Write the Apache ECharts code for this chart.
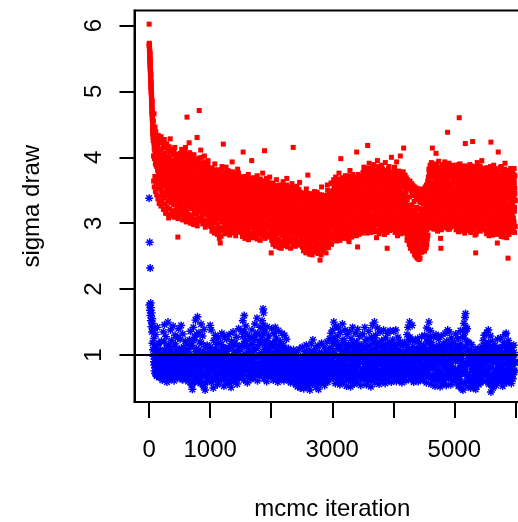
<!DOCTYPE html>
<html><head><meta charset="utf-8">
<script src="https://cdn.jsdelivr.net/npm/echarts@6/dist/echarts.min.js"></script>
<style>html,body{margin:0;padding:0;background:#fff}#c{width:518px;height:522px}</style>
</head><body><div id="c"></div>
<script>
// ---- axis ticks / labels ----
const iterTicks = [0, 1000, 2000, 3000, 4000, 5000, 6000];
const iterLabels = [0, 1000, 3000, 5000];
const sigmaTicks = [1, 2, 3, 4, 5, 6];
const refLineValue = 1;

// ---- red trace (chain 1): iteration blocks ----
const redBlockStart = [0, 65, 500, 1000, 1500, 2000, 2500, 3000, 3500, 4000, 4500, 5000, 5500];
const redBlockEnd   = [65, 500, 1000, 1500, 2000, 2500, 3000, 3500, 4000, 4500, 5000, 5500, 6000];
// pass A
const redBurnIn = [6.02,5.73,5.70,5.66,5.61,5.55,5.58,5.49,5.42,5.36,5.30,5.22,5.26,5.15,5.08,5.01,4.95,4.88,4.82,4.86,4.74,4.68,4.61,4.55,4.48,4.42];
const red0 = [4.41,4.55,4.28,4.66,4.35,4.12,4.46,4.05,4.22,3.95,4.30,4.10,3.86,4.02,4.18,3.80,3.92,4.08,
3.74,4.12,3.66,3.88,4.25,3.52,3.79,3.95,4.31,3.61,3.70,4.02,3.45,3.83,3.97,3.58,4.16,3.73,3.40,3.90,
4.05,3.62,3.81,3.15,3.68,4.20,3.77,3.55,3.93,3.48,3.86,4.10,3.64,3.08,3.72,3.99,3.57,3.84,4.28,3.51,
3.69,3.38,3.91,3.76,3.46,4.07,3.60,3.82,3.12,3.71,3.94,3.53,3.66,4.15,3.42,3.79,3.58,3.88,3.20,3.63,
4.01,3.49,3.75,2.79,3.92,3.37,3.68,3.81,3.44];
const red1 = [3.58,3.92,3.41,3.75,3.29,3.66,3.22,3.84,3.50,4.08,3.63,3.36,3.79,3.95,3.45,3.70,3.18,3.88,3.57,4.15,
3.40,3.67,3.82,3.29,4.61,3.99,3.48,3.74,3.12,3.86,3.53,4.22,3.38,3.69,3.90,3.44,3.60,3.05,3.77,3.51,
3.96,3.34,3.65,3.81,3.25,3.58,4.04,3.47,3.72,3.15,3.63,3.89,3.39,3.55,3.78,3.02,3.66,4.30,3.49,3.84,
3.31,3.62,3.97,3.43,4.71,3.20,3.57,3.83,3.36,4.11,3.52,3.68,3.08,3.75,3.46,3.91,3.33,3.60,3.79,3.27,
3.54,4.02,3.41,3.67,2.94,3.58,3.85,3.37,3.64,3.00,3.49,3.76,3.30,3.95,3.45,3.61,3.22,3.82,3.39,3.56];
const red2 = [3.42,3.15,3.71,3.28,3.56,2.98,3.83,3.37,3.62,3.09,3.49,3.77,3.21,3.58,3.34,3.90,3.03,3.45,3.66,3.26,
3.53,3.12,3.74,3.39,3.60,2.92,3.47,3.81,3.18,3.55,2.77,3.36,3.69,2.70,3.43,3.24,3.64,3.07,3.51,3.86,
3.31,3.58,3.14,4.20,3.40,3.72,3.00,3.48,3.27,3.63,3.19,3.54,3.85,3.33,2.95,3.46,3.68,3.11,3.38,3.57,
3.23,3.79,3.05,3.44,3.61,3.29,3.50,2.88,3.71,3.35,3.16,3.52,3.93,3.25,3.47,3.02,3.66,3.38,3.13,3.59,
3.30,3.76,2.97,3.43,3.55,3.20,3.67,3.34,3.08,3.49,3.82,3.26,3.41,2.91,3.58,3.36,3.70,3.17,3.45,3.28];
const red3 = [3.24,3.51,3.02,3.39,3.66,3.14,3.32,2.89,4.08,3.45,3.18,3.58,3.27,3.06,3.71,3.35,3.11,3.48,2.96,3.62,
3.29,3.41,3.08,3.55,3.20,3.74,3.01,3.37,3.16,3.52,3.25,2.93,3.64,3.33,3.12,3.46,3.95,3.21,3.57,3.04,
3.38,3.69,3.15,3.30,2.87,3.49,3.23,3.60,3.09,3.43,2.79,3.34,3.56,3.19,3.72,3.05,3.40,3.27,3.63,2.99,
3.36,3.13,3.53,3.22,3.67,3.07,3.44,3.31,2.91,3.58,3.17,3.39,3.76,3.10,3.47,3.26,3.00,3.61,4.10,3.35,
3.20,3.54,2.94,3.42,3.12,3.68,3.28,3.03,3.50,3.37,3.14,3.59,3.24,2.85,3.45,3.70,3.18,3.32,3.06,3.41];
const red4 = [2.55,3.21,3.48,2.92,3.30,3.05,3.61,2.83,3.16,3.39,2.98,3.27,3.54,3.09,2.76,3.42,3.13,3.66,2.95,3.24,
3.36,2.88,3.50,3.02,3.19,2.71,3.45,3.11,3.58,2.90,3.28,3.07,3.40,2.62,3.17,3.52,2.97,3.33,3.04,3.63,
3.14,2.85,3.44,3.22,2.79,3.35,3.00,3.56,3.12,2.93,3.31,3.68,3.06,3.26,2.81,3.47,3.15,2.99,3.38,3.10,
2.74,3.29,3.53,3.03,3.20,2.89,3.43,3.08,3.60,2.96,3.25,3.37,4.15,3.01,3.18,2.86,3.46,3.12,3.32,2.78,
3.09,3.55,2.94,3.23,3.41,3.04,2.72,3.34,3.16,3.49,2.91,3.27,3.06,3.62,2.84,3.19,3.39,2.97,3.13,3.30];
const red5 = [3.05,2.82,3.31,2.96,3.18,2.71,3.42,3.00,2.88,3.25,3.10,2.67,3.36,2.93,3.14,3.52,2.79,3.03,3.28,2.86,
3.73,3.08,2.75,3.21,2.98,3.45,2.69,3.12,2.91,3.33,3.01,2.63,3.19,2.84,2.52,3.39,2.95,3.07,2.73,3.26,
2.89,3.15,3.48,2.77,3.02,2.66,3.30,2.92,3.11,2.81,3.37,2.97,2.70,3.22,3.04,2.60,3.16,2.87,3.43,2.94,
2.44,3.09,2.78,3.27,2.99,3.55,2.83,3.13,2.65,3.20,2.90,3.34,3.06,2.74,3.17,2.94,3.40,2.86,3.23,3.00,
2.68,3.29,3.11,2.85,3.58,3.02,2.76,3.19,3.35,2.93,3.14,2.80,3.46,3.07,2.97,3.24,3.61,3.03,3.32,3.12];
const red6 = [3.18,3.46,2.94,3.30,3.62,3.05,3.38,2.82,3.55,3.21,3.12,3.70,3.27,2.99,3.43,3.16,3.64,2.88,3.34,3.51,
3.08,3.25,3.76,2.96,3.40,3.19,3.57,3.02,3.98,3.31,2.86,3.47,3.14,3.68,3.23,2.91,3.53,3.36,3.10,3.60,
3.28,2.78,3.44,3.72,3.06,3.33,3.15,3.58,2.93,3.39,3.66,3.20,3.01,3.49,3.29,2.72,3.54,3.13,3.80,3.35,
3.04,3.42,3.24,3.61,2.89,3.37,3.17,3.74,3.09,3.48,3.26,2.97,3.56,3.32,3.67,3.11,3.44,2.85,3.39,3.59,
4.08,3.22,3.50,2.64,3.36,3.07,3.63,3.30,3.45,3.00,3.71,3.27,3.15,3.52,2.95,3.41,3.69,3.19,3.34,3.57];
const red7 = [3.40,3.12,3.66,3.29,3.85,3.03,3.52,3.21,3.74,3.36,2.95,3.58,3.44,3.16,3.80,3.27,4.18,3.49,3.08,3.63,
3.33,3.91,3.19,3.46,2.87,3.70,3.38,3.55,3.10,3.77,3.25,3.60,3.43,2.99,3.68,3.31,3.89,3.14,3.50,3.22,
3.75,3.06,3.41,3.62,3.28,2.78,3.57,3.35,3.95,3.18,3.47,3.02,3.64,3.32,3.82,3.11,3.45,3.26,3.71,2.92,
3.53,3.37,3.88,3.15,3.42,3.61,3.04,3.34,3.79,3.23,3.56,2.83,3.48,3.30,3.92,3.17,3.39,3.65,3.09,3.44,
2.62,3.52,3.28,3.73,3.13,3.46,3.86,3.20,3.58,2.98,3.36,3.69,3.24,3.50,4.00,3.07,3.41,3.62,3.31,3.54];
const red8 = [3.38,3.05,3.62,3.21,3.85,2.90,3.47,3.29,3.70,3.12,3.54,3.93,3.16,3.40,2.81,3.66,3.33,3.08,3.77,3.25,
3.51,3.00,3.42,4.02,3.19,3.58,2.93,3.35,3.72,3.14,3.45,3.27,2.86,3.60,4.14,3.10,3.39,3.22,3.55,2.97,
3.30,3.06,3.48,2.88,3.18,2.74,3.36,3.01,2.83,3.24,2.95,3.12,2.68,3.40,2.90,3.05,2.62,3.27,2.85,3.15,
2.77,3.55,2.98,2.58,3.20,2.86,3.09,2.70,3.33,2.93,2.52,3.02,2.81,3.17,2.66,2.96,3.45,2.74,2.47,3.08,
2.89,2.60,3.22,2.78,2.45,3.00,2.71,3.13,2.56,2.92,3.31,2.82,2.64,3.06,2.94,3.38,2.75,3.19,3.48,2.99];
const red9 = [2.86,3.21,2.58,3.03,3.36,2.72,2.95,3.47,2.63,3.14,2.90,3.28,3.05,3.52,3.19,3.66,2.97,3.41,3.77,3.26,
3.55,3.09,3.70,3.34,3.48,2.93,3.61,3.82,4.14,3.23,3.45,3.72,3.13,3.58,3.37,3.86,3.00,3.50,3.29,3.64,
4.06,3.42,3.18,3.75,3.53,2.88,3.39,3.68,3.24,3.57,3.80,3.11,3.46,3.33,3.62,2.77,2.62,3.40,3.71,3.27,
3.54,3.06,3.83,3.35,3.49,3.16,3.67,2.95,3.44,3.59,3.22,3.76,3.38,3.02,3.63,3.31,3.52,3.88,4.38,3.14,
3.47,3.69,3.25,3.56,2.91,3.41,3.78,3.20,3.60,3.36,3.08,3.51,3.73,3.30,3.45,2.99,3.65,3.28,3.84,3.39];
const red10 = [3.43,3.10,3.66,3.27,3.81,2.96,3.52,3.35,3.74,3.18,3.58,3.02,3.45,3.70,3.24,3.89,4.60,3.31,3.62,3.08,
3.49,3.77,3.15,3.40,3.85,2.90,3.55,3.29,3.68,3.12,3.44,3.79,3.21,3.60,2.85,3.37,4.21,3.50,3.06,3.72,
3.33,3.57,3.19,3.83,3.41,2.98,3.64,3.26,3.53,3.11,3.76,3.38,3.04,3.61,3.22,3.87,3.46,2.93,3.69,3.30,
4.24,3.54,3.17,3.42,3.80,3.07,3.63,3.34,2.82,3.58,2.55,3.25,3.71,3.13,3.48,3.92,3.20,3.39,3.66,3.00,
3.55,3.28,3.84,3.16,3.47,2.88,3.73,3.36,3.59,3.23,3.95,3.09,3.50,3.32,3.78,2.97,3.61,3.40,3.14,3.67];
const red11 = [3.36,3.02,3.58,3.21,3.77,2.89,3.45,3.13,3.68,3.29,3.52,3.84,3.07,3.40,3.63,2.95,3.31,3.74,3.18,3.49,
4.23,3.26,3.57,3.04,3.70,3.38,2.84,3.61,3.20,3.88,3.44,3.11,3.66,3.33,2.98,3.53,3.79,3.24,3.47,3.09,
3.59,2.70,3.35,3.82,4.08,3.15,3.42,3.71,3.01,3.55,3.28,3.64,2.92,3.39,3.86,3.19,3.50,3.06,3.73,3.32,
3.12,3.60,3.45,2.79,3.67,3.23,3.91,3.37,3.04,3.54,3.30,3.76,3.16,3.48,2.87,3.62,2.47,3.41,3.08,3.69,
3.25,3.56,3.80,3.14,3.43,2.96,3.65,3.34,3.51,3.10,3.72,3.27,3.46,3.00,3.60,3.38,3.83,3.18,3.53,3.35];
// pass B
const redBurnInB = [5.71,5.68,5.64,5.59,5.52,5.47,5.40,5.44,5.33,5.27,5.19,5.12,5.05,5.10,4.98,4.92,4.84,4.79,4.71,4.65,4.58,4.63,4.51,4.45,4.38,4.33];
const red0B = [4.25,4.02,4.38,4.14,3.98,4.21,4.07,3.90,4.16,4.00,3.88,4.11,3.94,4.05,3.84,3.97,4.13,3.89,
3.78,3.96,3.85,4.03,3.71,3.92,3.81,3.69,3.99,3.76,3.87,3.64,3.93,3.80,3.72,4.00,3.67,3.86,3.77,3.59,
3.90,3.74,3.83,3.63,3.96,3.70,3.79,3.55,3.88,3.75,3.66,3.85,3.58,3.78,3.94,3.68,3.73,3.61,3.82,3.50,
3.76,3.87,3.64,3.71,3.56,3.80,3.69,3.91,3.59,3.74,3.65,3.84,3.53,3.72,3.62,3.79,3.48,3.67,3.85,3.60,
3.70,3.57,3.81,3.66,3.52,3.75,3.63,3.78,3.55];
const red1B = [3.62,3.48,3.75,3.55,3.41,3.68,3.52,3.80,3.45,3.60,3.37,3.71,3.57,3.46,3.83,3.53,3.64,3.39,3.74,3.50,
3.66,3.43,3.58,3.77,3.35,3.61,3.49,3.72,3.54,3.42,3.69,3.56,3.33,3.63,3.47,3.79,3.51,3.40,3.65,3.58,
3.44,3.70,3.36,3.55,3.62,3.30,3.59,3.48,3.73,3.41,3.57,3.66,3.38,3.52,3.45,3.69,3.34,3.60,3.47,3.76,
3.43,3.54,3.31,3.63,3.50,3.39,3.67,3.46,3.57,3.28,3.61,3.44,3.53,3.70,3.37,3.49,3.58,3.32,3.65,3.42,
3.55,3.27,3.48,3.62,3.40,3.51,3.35,3.59,3.45,3.68,3.33,3.47,3.56,3.29,3.52,3.41,3.64,3.38,3.49,3.44];
const red2B = [3.40,3.26,3.53,3.35,3.18,3.47,3.31,3.60,3.22,3.44,3.37,3.13,3.50,3.29,3.41,3.56,3.24,3.38,3.15,3.46,
3.33,3.58,3.20,3.43,3.30,3.52,3.11,3.36,3.48,3.27,3.39,3.19,3.55,3.32,3.45,3.23,3.61,3.34,3.14,3.42,
3.28,3.51,3.36,3.17,3.44,3.31,3.57,3.21,3.39,3.25,3.49,3.34,3.12,3.40,3.28,3.54,3.19,3.37,3.46,3.23,
3.32,3.50,3.16,3.41,3.29,3.58,3.22,3.35,3.09,3.43,3.27,3.47,3.33,3.18,3.52,3.30,3.40,3.14,3.36,3.24,
3.45,3.31,3.55,3.20,3.38,3.26,3.49,3.12,3.34,3.42,3.21,3.37,3.29,3.53,3.17,3.39,3.25,3.46,3.30,3.35];
const red3B = [3.25,3.10,3.38,3.19,3.32,3.02,3.28,3.45,3.14,3.30,3.21,3.40,3.07,3.26,3.35,3.12,3.48,3.18,3.29,2.99,
3.23,3.37,3.09,3.31,3.16,3.43,3.20,3.05,3.34,3.24,3.13,3.39,3.27,3.01,3.22,3.46,3.15,3.33,3.08,3.28,
3.19,3.41,3.11,3.30,3.24,2.96,3.36,3.17,3.27,3.04,3.33,3.20,3.44,3.13,3.26,3.06,3.38,3.22,3.10,3.31,
3.18,3.35,3.02,3.25,3.42,3.14,3.29,3.08,3.37,3.21,3.12,3.32,3.23,3.47,3.16,3.28,3.00,3.34,3.19,3.26,
3.09,3.39,3.21,3.15,3.31,3.05,3.27,3.43,3.17,3.24,3.11,3.36,3.20,3.30,3.03,3.25,3.14,3.40,3.22,3.18];
const red4B = [3.12,2.96,3.25,3.05,3.18,2.89,3.30,3.08,2.99,3.21,3.14,3.35,2.93,3.10,3.23,3.02,3.16,2.86,3.27,3.07,
3.19,2.98,3.32,3.11,2.91,3.24,3.04,3.15,2.95,3.28,3.09,3.20,2.88,3.13,3.01,3.26,3.17,2.94,3.06,3.38,
3.11,2.97,3.22,3.03,3.14,2.84,3.29,3.08,3.18,2.92,3.05,3.24,3.12,2.90,3.19,3.00,3.33,3.07,2.95,3.16,
3.26,3.02,3.13,2.87,3.21,3.09,2.98,3.30,3.04,3.15,2.92,3.18,3.06,3.27,2.99,3.11,3.23,2.85,3.14,3.01,
3.20,3.08,2.93,3.25,3.03,3.16,2.89,3.12,3.34,2.97,3.10,3.19,2.94,3.07,3.22,3.00,3.13,2.91,3.17,3.05];
const red5B = [3.02,2.88,3.15,2.95,3.08,2.79,3.20,2.99,2.85,3.11,3.04,2.91,3.24,2.97,3.06,2.83,3.13,2.94,3.01,2.77,
3.18,2.92,3.09,2.86,3.00,3.22,2.81,3.05,2.96,3.14,2.89,3.03,2.74,2.98,3.10,2.84,3.07,2.93,3.19,2.80,
2.97,3.12,2.87,3.04,2.76,3.01,3.16,2.90,3.08,2.82,3.00,2.94,3.21,2.85,3.06,2.72,2.99,3.13,2.88,3.03,
2.78,2.95,3.10,2.86,3.02,2.91,3.17,2.83,3.05,2.97,3.12,2.89,3.00,3.25,2.93,3.07,2.84,3.15,2.98,3.04,
2.90,3.11,2.96,3.20,2.87,3.06,3.01,3.14,2.92,3.09,3.18,2.99,3.05,3.27,3.02,3.13,2.95,3.22,3.08,3.16];
const red6B = [3.15,3.32,3.05,3.24,3.40,3.10,3.28,2.98,3.35,3.18,3.22,3.45,3.08,3.30,3.14,3.38,3.02,3.26,3.19,3.42,
3.11,3.29,3.50,3.06,3.33,3.21,3.44,3.13,3.36,3.25,3.01,3.39,3.17,3.48,3.27,3.09,3.34,3.23,3.12,3.41,
3.30,3.04,3.37,3.52,3.16,3.28,3.20,3.43,3.07,3.31,3.46,3.24,3.14,3.35,3.27,3.00,3.39,3.18,3.55,3.29,
3.12,3.33,3.26,3.47,3.05,3.31,3.22,3.50,3.16,3.38,3.28,3.10,3.42,3.32,3.49,3.19,3.36,3.03,3.30,3.44,
3.57,3.25,3.37,3.08,3.33,3.17,3.46,3.29,3.40,3.14,3.51,3.27,3.21,3.39,3.11,3.35,3.48,3.24,3.31,3.43];
const red7B = [3.37,3.21,3.50,3.30,3.62,3.15,3.42,3.28,3.55,3.34,3.10,3.46,3.39,3.24,3.58,3.32,3.66,3.41,3.19,3.49,
3.35,3.60,3.26,3.44,3.07,3.53,3.36,3.45,3.22,3.57,3.31,3.48,3.40,3.13,3.52,3.33,3.63,3.25,3.43,3.29,
3.56,3.18,3.38,3.47,3.32,3.05,3.45,3.36,3.68,3.27,3.41,3.16,3.51,3.34,3.59,3.23,3.40,3.31,3.54,3.12,
3.44,3.37,3.64,3.26,3.39,3.48,3.17,3.35,3.57,3.30,3.46,3.09,3.42,3.33,3.61,3.27,3.38,3.50,3.20,3.40,
3.02,3.44,3.32,3.55,3.24,3.43,3.60,3.29,3.47,3.14,3.36,3.52,3.30,3.41,3.65,3.19,3.39,3.49,3.34,3.45];
const red8B = [3.35,3.18,3.48,3.27,3.60,3.10,3.40,3.31,3.53,3.22,3.44,3.65,3.25,3.37,3.06,3.50,3.33,3.19,3.57,3.29,
3.42,3.14,3.38,3.62,3.26,3.47,3.12,3.34,3.55,3.23,3.39,3.30,3.09,3.46,3.58,3.21,3.36,3.28,3.43,3.15,
3.24,3.08,3.33,2.97,3.16,2.90,3.22,3.04,2.95,3.18,3.01,3.10,2.85,3.25,2.98,3.07,2.80,3.15,2.94,3.05,
2.88,3.28,3.02,2.76,3.12,2.92,3.06,2.83,3.20,2.99,2.70,3.04,2.89,3.11,2.78,2.97,3.24,2.86,2.66,3.03,
2.93,2.75,3.09,2.87,2.62,3.01,2.82,3.08,2.72,2.96,3.18,2.90,2.79,3.05,2.99,3.22,2.85,3.12,3.30,3.02];
const red9B = [2.92,3.12,2.74,3.01,3.22,2.85,2.98,3.30,2.80,3.09,2.96,3.20,3.11,3.38,3.25,3.50,3.08,3.36,3.58,3.30,
3.45,3.18,3.55,3.33,3.42,3.06,3.48,3.62,3.27,3.39,3.51,3.23,3.44,3.35,3.60,3.15,3.41,3.32,3.53,3.26,
3.67,3.38,3.21,3.57,3.46,3.02,3.36,3.52,3.29,3.47,3.59,3.19,3.40,3.34,3.50,3.05,2.98,3.37,3.55,3.31,
3.44,3.16,3.63,3.35,3.43,3.22,3.54,3.09,3.40,3.49,3.28,3.58,3.37,3.13,3.51,3.33,3.45,3.65,3.24,3.39,
3.42,3.56,3.30,3.47,3.07,3.38,3.61,3.26,3.48,3.36,3.17,3.44,3.57,3.32,3.41,3.10,3.53,3.34,3.62,3.40];
const red10B = [3.40,3.22,3.52,3.31,3.64,3.11,3.45,3.36,3.58,3.26,3.48,3.14,3.39,3.56,3.29,3.67,3.43,3.34,3.51,3.19,
3.42,3.61,3.24,3.37,3.70,3.08,3.47,3.32,3.55,3.21,3.38,3.63,3.28,3.50,3.05,3.35,3.59,3.44,3.17,3.57,
3.33,3.49,3.25,3.66,3.39,3.12,3.53,3.30,3.46,3.20,3.60,3.37,3.15,3.51,3.27,3.68,3.41,3.09,3.55,3.32,
3.62,3.44,3.23,3.38,3.64,3.16,3.50,3.34,3.02,3.47,2.98,3.29,3.57,3.21,3.43,3.71,3.26,3.36,3.54,3.13,
3.45,3.31,3.65,3.24,3.40,3.07,3.58,3.35,3.48,3.28,3.69,3.18,3.42,3.33,3.61,3.10,3.52,3.37,3.25,3.56];
const red11B = [3.33,3.14,3.47,3.26,3.60,3.05,3.39,3.21,3.53,3.30,3.44,3.65,3.17,3.36,3.51,3.09,3.32,3.58,3.24,3.42,
3.70,3.28,3.48,3.12,3.56,3.35,3.01,3.49,3.25,3.63,3.38,3.19,3.52,3.31,3.08,3.45,3.61,3.27,3.40,3.16,
3.50,2.94,3.34,3.64,3.72,3.22,3.37,3.57,3.11,3.46,3.29,3.54,3.03,3.36,3.66,3.23,3.43,3.13,3.59,3.32,
3.18,3.50,3.39,2.97,3.55,3.26,3.69,3.35,3.10,3.45,3.31,3.62,3.20,3.41,3.00,3.52,2.88,3.38,3.15,3.57,
3.28,3.47,3.63,3.19,3.40,3.06,3.54,3.33,3.44,3.16,3.59,3.30,3.42,3.08,3.50,3.37,3.66,3.24,3.45,3.34];
// pass C
const redBurnInC = [5.69,5.62,5.57,5.50,5.45,5.38,5.34,5.29,5.24,5.17,5.14,5.06,5.00,4.96,4.90,4.85,4.80,4.76,4.70,4.66,4.60,4.53,4.47,4.40,4.36,4.30];
const red0C = [4.42,3.64,4.21,3.55,4.34,3.71,4.15,3.48,4.39,3.60,4.12,3.43,4.28,3.67,4.19,3.37,4.33,3.52,
4.08,3.30,4.26,3.58,4.02,3.41,4.31,3.26,4.11,3.49,4.22,3.34,3.99,3.56,4.17,3.21,4.06,3.45,4.27,3.29,
4.03,3.39,4.14,3.18,3.96,3.47,4.20,3.25,4.01,3.33,4.10,3.14,3.93,3.42,4.16,3.22,3.98,3.36,4.07,3.11,
3.91,3.31,4.12,3.19,3.95,3.44,4.04,3.16,3.88,3.28,4.09,3.09,3.92,3.35,4.00,3.20,3.86,3.40,4.05,3.13,
3.90,3.27,3.97,3.07,3.87,3.32,4.02,3.17,3.94];
const red1C = [3.98,3.21,4.06,3.34,3.87,3.12,4.12,3.27,3.93,3.05,3.82,3.38,4.02,3.16,3.90,3.24,4.09,3.09,3.85,3.31,
3.96,3.02,3.80,3.19,4.04,3.35,3.89,3.07,3.99,3.26,3.83,3.13,4.07,3.29,3.92,3.00,3.86,3.22,4.01,3.36,
3.78,3.10,3.95,3.25,3.84,2.98,4.03,3.18,3.88,3.32,3.79,3.06,3.97,3.23,3.81,3.14,3.94,2.96,3.76,3.28,
3.91,3.08,3.85,3.20,3.99,3.33,3.77,3.03,3.90,3.17,3.82,3.27,4.00,3.11,3.74,2.99,3.88,3.21,3.80,3.30,
3.93,3.04,3.75,3.15,3.86,3.26,3.78,2.97,3.84,3.12,3.72,3.23,3.89,3.01,3.77,3.18,3.83,3.08,3.73,3.24];
const red2C = [3.78,2.95,3.66,3.10,3.84,2.88,3.71,3.04,3.60,2.92,3.75,3.13,3.64,2.85,3.81,3.00,3.69,3.08,3.57,2.90,
3.73,3.15,3.62,2.83,3.79,2.98,3.67,3.06,3.55,2.87,3.76,3.11,3.63,2.93,3.70,2.80,3.58,3.02,3.82,3.09,
3.65,2.89,3.74,3.14,3.59,2.96,3.68,2.84,3.77,3.05,3.61,2.91,3.72,3.12,3.56,2.86,3.80,3.01,3.66,2.94,
3.70,3.07,3.54,2.82,3.75,2.99,3.63,3.10,3.69,2.88,3.58,3.03,3.78,2.92,3.64,3.13,3.53,2.85,3.71,2.97,
3.67,3.08,3.60,2.81,3.74,2.95,3.57,3.04,3.68,2.90,3.62,3.11,3.76,2.87,3.55,3.00,3.70,2.93,3.65,3.06];
const red3C = [3.63,2.86,3.52,3.00,3.70,2.80,3.58,2.94,3.47,2.83,3.66,3.03,3.54,2.77,3.61,2.91,3.49,2.98,3.68,2.82,
3.56,3.05,3.45,2.88,3.64,2.75,3.53,2.96,3.60,2.85,3.48,3.01,3.67,2.79,3.55,2.93,3.44,2.84,3.62,3.04,
3.51,2.78,3.65,2.97,3.46,2.87,3.59,3.02,3.50,2.81,3.69,2.95,3.57,2.76,3.43,2.90,3.63,3.00,3.52,2.83,
3.58,2.97,3.47,2.74,3.66,2.89,3.54,3.03,3.49,2.86,3.61,2.80,3.45,2.94,3.64,2.88,3.53,2.99,3.42,2.77,
3.60,2.92,3.50,2.84,3.67,2.98,3.56,2.79,3.46,2.93,3.62,3.02,3.51,2.85,3.58,2.96,3.44,2.81,3.55,2.90];
const red4C = [3.52,2.74,3.41,2.88,3.58,2.68,3.46,2.82,3.36,2.71,3.55,2.91,3.43,2.65,3.50,2.79,3.38,2.86,3.57,2.70,
3.45,2.93,3.34,2.76,3.53,2.63,3.42,2.84,3.49,2.73,3.37,2.89,3.56,2.67,3.44,2.81,3.33,2.72,3.51,2.92,
3.40,2.66,3.54,2.85,3.35,2.75,3.48,2.90,3.39,2.69,3.58,2.83,3.46,2.64,3.32,2.78,3.52,2.88,3.41,2.71,
3.47,2.85,3.36,2.62,3.55,2.77,3.43,2.91,3.38,2.74,3.50,2.68,3.34,2.82,3.53,2.76,3.42,2.87,3.31,2.65,
3.49,2.80,3.39,2.72,3.56,2.86,3.45,2.67,3.35,2.81,3.51,2.90,3.40,2.73,3.47,2.84,3.33,2.69,3.44,2.78];
const red5C = [3.40,2.64,3.30,2.78,3.46,2.58,3.35,2.72,3.25,2.61,3.43,2.81,3.32,2.55,3.38,2.69,3.27,2.76,3.45,2.60,
3.34,2.83,3.23,2.66,3.41,2.53,3.31,2.74,3.37,2.63,3.26,2.79,3.44,2.57,3.33,2.71,3.22,2.62,3.39,2.82,
3.29,2.56,3.42,2.75,3.24,2.65,3.36,2.80,3.28,2.59,3.47,2.73,3.35,2.54,3.21,2.68,3.40,2.78,3.30,2.61,
3.36,2.75,3.25,2.52,3.43,2.67,3.32,2.81,3.27,2.64,3.39,2.58,3.24,2.72,3.42,2.66,3.31,2.77,3.20,2.55,
3.41,2.73,3.33,2.66,3.50,2.80,3.39,2.63,3.30,2.77,3.46,2.86,3.37,2.70,3.44,2.82,3.32,2.68,3.48,2.79];
const red6C = [3.60,2.82,3.50,2.95,3.66,2.76,3.55,2.89,3.45,2.79,3.63,2.98,3.52,2.73,3.59,2.87,3.48,2.93,3.67,2.80,
3.56,3.00,3.46,2.85,3.64,2.74,3.54,2.92,3.61,2.83,3.50,2.97,3.69,2.78,3.58,2.90,3.47,2.81,3.65,3.01,
3.55,2.77,3.68,2.94,3.51,2.86,3.62,2.99,3.54,2.80,3.72,2.93,3.60,2.75,3.49,2.88,3.67,3.00,3.57,2.84,
3.63,2.97,3.53,2.79,3.71,2.91,3.59,3.04,3.55,2.87,3.66,2.82,3.52,2.96,3.70,2.90,3.60,3.02,3.49,2.81,
3.68,2.95,3.58,2.87,3.74,3.01,3.64,2.83,3.54,2.97,3.70,3.05,3.61,2.89,3.67,2.99,3.53,2.85,3.63,2.94];
const red7C = [3.77,2.94,3.66,3.07,3.84,2.88,3.72,3.02,3.62,2.91,3.80,3.10,3.69,2.85,3.76,2.99,3.64,3.05,3.83,2.92,
3.71,3.12,3.61,2.97,3.79,2.86,3.68,3.04,3.75,2.95,3.63,3.09,3.85,2.90,3.73,3.01,3.60,2.93,3.78,3.11,
3.67,2.87,3.81,3.06,3.63,2.98,3.74,3.08,3.66,2.89,3.86,3.03,3.72,2.84,3.59,2.96,3.79,3.10,3.68,2.92,
3.74,3.05,3.62,2.88,3.82,3.00,3.70,3.13,3.65,2.94,3.77,2.90,3.61,3.04,3.80,2.97,3.69,3.08,3.58,2.86,
3.76,3.01,3.66,2.93,3.83,3.06,3.71,2.89,3.64,3.02,3.78,3.11,3.67,2.95,3.73,3.07,3.60,2.91,3.70,2.99];
const red8C = [3.74,2.92,3.63,3.05,3.80,2.86,3.68,2.99,3.58,2.89,3.77,3.08,3.65,2.83,3.71,2.97,3.60,3.03,3.79,2.90,
3.67,3.10,3.57,2.95,3.75,2.84,3.64,3.01,3.70,2.93,3.59,3.06,3.78,2.87,3.66,2.98,3.55,2.91,3.73,3.04,
3.62,2.85,3.69,2.96,3.54,2.80,3.66,2.92,3.58,2.76,3.61,2.88,3.52,2.73,3.64,2.84,3.56,2.68,3.49,2.79,
3.60,2.62,3.45,2.74,3.57,2.58,3.51,2.70,3.42,2.54,3.55,2.66,3.47,2.50,3.38,2.63,3.53,2.57,3.44,2.48,
3.36,2.60,3.50,2.52,3.41,2.65,3.33,2.47,3.46,2.59,3.39,2.69,3.52,2.56,3.43,2.72,3.35,2.61,3.48,2.75];
const red9C = [3.50,2.58,3.44,2.66,3.55,2.62,3.47,2.71,3.58,2.68,3.52,2.76,3.63,2.82,3.70,2.95,3.82,3.08,3.74,2.99,
3.88,3.14,3.77,2.93,3.92,3.05,3.80,3.17,3.70,2.97,3.86,3.11,3.75,2.91,3.83,3.06,3.72,3.15,3.90,3.00,
3.78,2.94,3.87,3.09,3.73,3.19,3.81,2.92,3.94,3.04,3.76,3.13,3.69,2.96,3.85,3.08,3.79,2.90,3.71,3.16,
3.89,3.02,3.74,2.95,3.84,3.12,3.77,3.01,3.93,2.93,3.80,3.10,3.68,3.05,3.86,2.98,3.75,3.18,3.82,2.91,
3.72,3.07,3.91,3.00,3.79,3.14,3.70,2.94,3.85,3.09,3.76,3.03,3.88,2.96,3.73,3.15,3.81,2.99,3.78,3.06];
const red10C = [3.82,2.96,3.71,3.10,3.88,2.90,3.76,3.04,3.66,2.93,3.85,3.13,3.73,2.87,3.80,3.01,3.68,3.07,3.90,2.94,
3.75,3.15,3.64,2.99,3.83,2.88,3.72,3.06,3.79,2.97,3.67,3.11,3.87,2.91,3.77,3.03,3.63,2.95,3.81,3.14,
3.70,2.89,3.86,3.08,3.69,3.00,3.78,3.12,3.71,2.92,3.89,3.05,3.74,2.86,3.62,2.98,3.84,3.13,3.72,2.95,
3.78,3.09,3.65,2.90,3.86,3.02,3.74,3.16,3.70,2.96,3.82,2.84,3.66,3.07,3.85,3.00,3.73,3.11,3.61,2.89,
3.80,3.04,3.69,2.95,3.87,3.10,3.75,2.92,3.67,3.05,3.83,3.14,3.71,2.97,3.77,3.09,3.64,2.93,3.76,3.02];
const red11C = [3.77,2.90,3.65,3.04,3.84,2.84,3.71,2.98,3.61,2.87,3.80,3.07,3.68,2.81,3.75,2.95,3.63,3.01,3.86,2.89,
3.70,3.09,3.59,2.93,3.79,2.82,3.67,3.00,3.74,2.91,3.62,3.05,3.83,2.86,3.72,2.97,3.58,2.88,3.76,3.08,
3.66,2.83,3.81,3.02,3.64,2.94,3.73,3.06,3.68,2.85,3.85,2.99,3.70,2.80,3.57,2.92,3.78,3.07,3.66,2.88,
3.73,3.03,3.60,2.84,3.82,2.96,3.69,3.10,3.65,2.90,3.77,2.78,3.62,3.01,3.80,2.94,3.68,3.05,3.56,2.83,
3.75,2.98,3.64,2.89,3.83,3.04,3.71,2.87,3.61,2.99,3.79,3.08,3.67,2.92,3.74,3.02,3.59,2.86,3.72,2.95];

// ---- blue trace (chain 2): 500-iteration blocks ----
const blueBlockStart = [0, 500, 1000, 1500, 2000, 2500, 3000, 3500, 4000, 4500, 5000, 5500];
const blueBlockEnd   = [500, 1000, 1500, 2000, 2500, 3000, 3500, 4000, 4500, 5000, 5500, 6000];
const blue0 = [3.38,2.71,2.32,1.79,1.72,1.64,1.55,1.48,1.38,1.25,0.85,1.12,0.72,1.31,0.95,0.68,1.42,1.05,0.78,1.18,
0.66,0.92,1.08,0.74,1.21,0.88,0.62,1.02,1.35,0.80,1.46,0.97,0.70,1.28,1.10,0.59,0.86,1.50,1.15,0.76,
1.03,0.64,1.38,0.90,1.22,0.69,0.99,1.44,0.83,0.61,1.13,1.30,0.73,0.94,1.06,0.67,1.26,0.87,1.40,0.79];
const blue1 = [0.92,1.24,0.71,1.45,1.05,0.63,1.32,0.88,1.12,0.76,1.02,1.21,0.69,0.94,1.18,0.82,0.65,1.08,0.90,1.23,
0.74,1.36,0.98,0.55,1.15,0.48,0.86,1.42,0.70,1.27,0.95,1.53,0.61,1.10,0.79,1.58,1.01,0.66,1.34,0.87,
1.20,0.57,1.47,0.93,0.72,1.29,1.06,0.52,1.39,0.84,0.47,1.13,0.68,0.97,1.15,0.60,0.89,1.04,0.75,1.11];
const blue2 = [1.45,0.82,1.38,0.59,1.07,0.91,0.50,1.22,0.73,1.00,1.30,0.64,0.95,1.16,0.55,0.87,1.26,0.70,1.04,0.60,
1.19,0.81,0.98,1.33,0.66,0.90,1.12,0.53,1.28,0.77,1.02,0.62,1.24,0.85,1.09,0.57,0.94,1.31,0.72,1.14,
0.88,0.51,1.21,0.99,0.68,1.35,0.79,1.06,0.61,1.18,0.92,0.74,1.27,0.56,1.01,0.83,1.40,0.65,1.10,0.89];
const blue3 = [1.08,0.67,1.36,0.84,1.52,0.99,0.62,1.60,1.21,0.76,1.44,0.91,1.13,0.58,1.30,0.82,1.02,0.70,1.25,0.94,
0.63,1.17,1.38,0.79,1.05,0.66,1.28,0.88,1.47,0.73,1.11,0.96,1.56,0.61,1.33,0.85,1.19,0.69,1.42,1.00,
0.75,1.24,1.52,0.90,1.70,1.64,0.64,1.09,1.35,0.81,1.20,0.60,1.43,0.97,0.72,1.29,1.05,0.86,1.14,0.68];
const blue4 = [0.93,1.40,0.71,1.18,0.62,1.33,0.87,1.04,1.42,0.66,1.26,0.80,0.98,0.59,1.37,0.91,1.12,0.74,1.21,0.64,
1.01,1.33,0.78,0.95,1.15,0.61,1.30,0.86,1.07,0.69,1.24,0.83,1.00,0.63,1.10,0.76,0.92,1.06,0.58,0.85,
1.02,0.71,0.96,0.60,1.08,0.81,0.67,0.99,0.55,0.88,1.04,0.74,0.52,0.93,0.63,1.09,0.79,0.50,0.97,0.69];
const blue5 = [0.84,1.12,0.58,0.95,0.49,0.77,1.05,0.66,0.90,1.15,0.53,0.81,0.99,0.62,1.08,0.72,0.47,0.93,0.68,1.17,
0.86,0.56,1.23,0.75,1.02,0.60,0.89,1.10,0.51,0.79,0.97,0.65,1.14,0.48,0.84,1.04,0.70,0.91,0.57,1.18,
0.76,1.00,0.63,0.88,1.12,0.54,0.82,1.06,0.69,0.94,1.20,0.59,0.87,1.09,0.73,1.25,0.64,0.96,1.33,0.78];
const blue6 = [1.05,1.38,0.67,1.50,0.86,1.18,0.57,1.44,0.98,0.74,1.29,0.62,1.41,0.91,1.10,0.55,1.34,0.80,1.02,0.68,
1.47,0.94,0.59,1.22,0.76,1.38,0.87,1.08,0.53,1.31,0.71,0.99,1.16,0.64,1.36,0.83,0.52,1.25,0.93,0.61,
1.42,0.78,1.11,0.56,1.03,1.33,0.69,0.89,1.20,0.58,1.39,0.82,1.07,0.66,1.28,0.95,0.54,1.15,0.73,1.00];
const blue7 = [1.32,0.63,1.09,0.86,1.42,0.70,0.97,0.55,1.24,0.81,1.13,0.60,1.36,0.92,0.74,1.04,0.52,1.27,0.85,1.45,
0.67,1.18,0.96,1.50,0.58,1.30,0.79,1.07,0.64,1.41,0.88,1.16,0.56,1.00,1.35,0.72,0.93,1.22,0.61,1.11,
0.83,1.38,0.68,1.02,0.57,1.26,0.90,1.14,0.75,1.33,0.62,0.98,1.19,0.71,1.37,0.87,0.59,1.06,0.78,1.23];
const blue8 = [0.89,1.36,0.65,1.12,0.96,1.38,0.60,1.04,0.77,1.27,0.84,1.16,0.62,0.93,1.20,0.70,1.01,0.58,0.88,1.14,
0.67,0.95,1.19,0.74,1.06,0.61,0.90,1.31,0.82,1.42,0.69,1.08,1.50,0.78,1.24,0.63,0.99,1.45,0.86,1.13,
0.59,1.02,0.75,1.22,0.92,0.66,1.10,0.81,1.25,0.60,0.97,1.18,0.72,1.05,0.64,0.91,1.28,0.76,1.09,0.62];
const blue9 = [1.15,0.73,1.30,0.85,1.03,0.58,1.41,0.94,1.22,0.67,1.50,1.08,0.79,1.37,0.56,1.19,0.88,1.00,0.63,1.27,
0.81,1.11,0.53,0.96,1.31,0.70,1.05,0.60,0.89,1.24,0.75,1.14,0.52,0.92,1.29,0.66,1.01,0.57,1.17,0.83,
1.07,0.62,1.33,0.90,0.54,1.21,0.77,1.38,0.98,0.69,1.35,0.86,1.12,0.55,1.26,0.80,0.99,0.61,1.16,0.72];
const blue10 = [1.20,0.64,0.93,1.32,0.58,1.06,0.77,1.25,0.53,0.98,1.14,0.68,1.37,0.84,0.49,1.02,1.28,0.47,0.90,1.48,
0.73,1.57,1.63,1.12,0.60,1.40,0.87,0.52,1.19,0.96,0.66,1.08,0.50,0.89,1.16,0.57,0.79,1.03,0.51,0.94,
0.70,1.09,0.48,0.85,1.00,0.62,0.76,1.10,0.55,0.91,0.67,1.05,0.58,0.82,1.13,0.63,0.97,1.22,0.74,1.30];
const blue11 = [0.88,1.18,0.60,1.04,1.34,0.71,0.95,1.38,0.56,1.12,0.82,1.29,0.44,0.99,0.66,1.21,0.50,0.91,1.07,0.63,
1.15,0.78,0.54,1.02,0.69,1.24,0.87,0.59,1.10,0.75,0.96,1.26,0.61,0.84,1.13,0.53,1.00,0.72,1.19,0.65,
1.31,0.89,1.33,0.58,1.06,0.79,1.22,0.62,0.93,1.15,0.70,1.03,0.57,1.11,0.85,0.64,0.97,1.15,0.74,0.90];
const blue0B = [1.76,1.68,1.60,1.52,1.43,1.35,1.18,1.08,0.98,0.90,0.76,1.02,0.81,0.93,0.70,1.15,0.87,0.73,0.97,0.68,
0.84,1.00,0.79,0.91,0.66,1.06,0.83,0.72,0.95,1.20,0.88,0.75,1.04,0.67,0.92,0.80,1.12,0.71,0.99,0.85,
0.63,0.94,1.08,0.78,0.86,0.69,1.01,0.82,0.74,0.96,0.89,1.17,0.70,0.93,0.77,1.05,0.65,0.90,0.81,1.09];
const blue1B = [0.82,0.98,0.68,1.10,0.76,0.90,0.63,1.03,0.85,0.72,0.95,0.66,0.88,1.06,0.74,0.93,0.60,0.84,1.00,0.70,
0.87,1.14,0.62,0.79,0.97,0.57,0.91,1.22,0.73,0.83,1.05,0.67,0.94,1.31,0.78,0.86,0.59,1.08,0.71,0.96,
0.80,0.64,1.18,0.89,0.75,1.02,0.55,0.92,0.69,0.84,0.58,0.99,0.77,0.86,0.65,0.94,0.72,1.00,0.81,0.90];
const blue2B = [1.12,0.76,0.95,0.66,0.88,1.03,0.61,0.92,0.79,0.85,1.08,0.70,0.83,0.97,0.62,0.89,1.05,0.75,0.93,0.67,
0.86,0.99,0.73,1.12,0.80,0.94,0.64,0.84,1.01,0.71,0.90,0.68,1.06,0.78,0.96,0.63,0.87,1.10,0.77,0.91,
0.82,0.59,0.98,0.86,0.74,1.15,0.69,0.93,0.72,0.97,0.84,0.65,1.04,0.76,0.88,0.70,1.13,0.79,0.95,0.83];
const blue3B = [0.94,0.74,1.15,0.80,1.28,0.89,0.70,1.35,1.02,0.82,1.20,0.86,0.97,0.67,1.10,0.78,0.91,0.75,1.04,0.88,
0.71,0.99,1.16,0.83,0.93,0.72,1.07,0.85,1.24,0.79,0.96,0.87,1.32,0.69,1.12,0.81,1.00,0.76,1.19,0.90,
0.80,1.03,1.30,0.85,1.45,1.38,0.73,0.95,1.14,0.84,1.01,0.68,1.22,0.89,0.77,1.08,0.92,0.83,0.98,0.74];
const blue4B = [0.86,1.15,0.77,1.00,0.70,1.12,0.82,0.94,1.20,0.73,1.06,0.79,0.90,0.67,1.14,0.85,0.97,0.76,1.03,0.71,
0.91,1.10,0.80,0.88,0.99,0.68,1.08,0.83,0.95,0.74,1.02,0.81,0.92,0.69,0.96,0.77,0.86,0.93,0.65,0.84,
0.90,0.73,0.87,0.66,0.94,0.78,0.71,0.89,0.62,0.83,0.92,0.75,0.60,0.85,0.69,0.95,0.77,0.58,0.88,0.72];
const blue5B = [0.80,0.96,0.65,0.87,0.58,0.76,0.93,0.70,0.84,0.98,0.61,0.79,0.89,0.67,0.94,0.74,0.56,0.85,0.72,1.00,
0.81,0.63,1.04,0.75,0.90,0.66,0.83,0.95,0.59,0.77,0.88,0.69,0.97,0.57,0.80,0.92,0.73,0.86,0.64,1.01,
0.76,0.91,0.68,0.82,0.96,0.62,0.79,0.94,0.71,0.87,1.02,0.66,0.84,0.95,0.75,1.06,0.70,0.90,1.10,0.80];
const blue6B = [0.95,1.18,0.74,1.25,0.84,1.02,0.66,1.20,0.90,0.78,1.10,0.70,1.16,0.86,0.98,0.63,1.12,0.80,0.93,0.73,
1.22,0.88,0.68,1.05,0.79,1.15,0.83,0.97,0.62,1.09,0.76,0.92,1.01,0.69,1.13,0.81,0.61,1.04,0.87,0.72,
1.19,0.79,0.99,0.65,0.94,1.11,0.75,0.85,1.03,0.67,1.14,0.82,0.96,0.71,1.07,0.89,0.64,1.00,0.77,0.91];
const blue7B = [1.12,0.71,0.97,0.82,1.20,0.76,0.90,0.64,1.06,0.80,1.00,0.69,1.14,0.87,0.78,0.95,0.62,1.08,0.83,1.22,
0.74,1.02,0.89,1.26,0.67,1.11,0.79,0.96,0.72,1.18,0.85,1.01,0.66,0.93,1.13,0.77,0.88,1.04,0.70,0.98,
0.81,1.16,0.73,0.94,0.65,1.07,0.86,0.99,0.78,1.12,0.70,0.91,1.03,0.75,1.15,0.84,0.68,0.96,0.80,1.05];
const blue8B = [0.85,1.14,0.72,1.00,0.90,1.17,0.68,0.95,0.79,1.08,0.82,1.02,0.70,0.88,1.05,0.75,0.93,0.66,0.84,0.99,
0.74,0.89,1.03,0.78,0.96,0.69,0.87,1.12,0.81,1.21,0.76,0.98,1.27,0.80,1.07,0.71,0.92,1.22,0.84,1.01,
0.67,0.94,0.77,1.06,0.88,0.72,1.00,0.80,1.09,0.68,0.91,1.04,0.76,0.97,0.71,0.86,1.10,0.79,0.99,0.70];
const blue9B = [1.00,0.78,1.12,0.84,0.94,0.67,1.20,0.88,1.06,0.73,1.28,0.97,0.80,1.15,0.65,1.03,0.85,0.92,0.70,1.09,
0.81,0.99,0.63,0.90,1.13,0.74,0.95,0.68,0.86,1.07,0.77,1.01,0.62,0.89,1.11,0.72,0.93,0.66,1.04,0.82,
0.98,0.70,1.14,0.87,0.64,1.05,0.79,1.18,0.91,0.73,1.16,0.84,1.00,0.65,1.08,0.80,0.94,0.69,1.02,0.76];
const blue10B = [1.04,0.72,0.90,1.12,0.66,0.97,0.79,1.08,0.63,0.92,1.01,0.74,1.17,0.83,0.58,0.95,1.10,0.57,0.87,1.26,
0.78,1.35,1.42,1.02,0.69,1.20,0.85,0.61,1.05,0.91,0.73,0.99,0.60,0.86,1.03,0.65,0.80,0.94,0.59,0.88,
0.75,0.98,0.57,0.83,0.93,0.68,0.79,1.00,0.62,0.89,0.72,0.96,0.66,0.84,1.01,0.70,0.92,1.07,0.77,1.11];
const blue11B = [0.85,1.05,0.69,0.97,1.15,0.76,0.91,1.19,0.64,1.02,0.81,1.11,0.55,0.94,0.72,1.06,0.60,0.88,0.99,0.70,
1.03,0.79,0.62,0.95,0.74,1.09,0.86,0.66,1.00,0.78,0.92,1.10,0.68,0.83,1.01,0.61,0.95,0.76,1.05,0.71,
1.14,0.87,1.16,0.66,0.98,0.80,1.07,0.69,0.90,1.02,0.75,0.96,0.65,1.00,0.84,0.70,0.93,1.04,0.77,0.88];

const redBlocks  = [redBurnIn, red0, red1, red2, red3, red4, red5, red6, red7, red8, red9, red10, red11];
const redBlocksB = [redBurnInB, red0B, red1B, red2B, red3B, red4B, red5B, red6B, red7B, red8B, red9B, red10B, red11B];
const redBlocksC = [redBurnInC, red0C, red1C, red2C, red3C, red4C, red5C, red6C, red7C, red8C, red9C, red10C, red11C];
const blueBlocks  = [blue0, blue1, blue2, blue3, blue4, blue5, blue6, blue7, blue8, blue9, blue10, blue11];
const blueBlocksB = [blue0B, blue1B, blue2B, blue3B, blue4B, blue5B, blue6B, blue7B, blue8B, blue9B, blue10B, blue11B];

// draws spread evenly over the iterations of their block; passes interleave
function buildTrace(blocks, starts, ends, offset) {
  const pts = [];
  blocks.forEach(function (vals, b) {
    const step = (ends[b] - starts[b]) / vals.length;
    vals.forEach(function (v, j) { pts.push([starts[b] + (j + offset) * step, v]); });
  });
  return pts;
}
const redData = buildTrace(redBlocks, redBlockStart, redBlockEnd, 0)
  .concat(buildTrace(redBlocksB, redBlockStart, redBlockEnd, 0.33))
  .concat(buildTrace(redBlocksC, redBlockStart, redBlockEnd, 0.67));
const blueData = buildTrace(blueBlocks, blueBlockStart, blueBlockEnd, 0)
  .concat(buildTrace(blueBlocksB, blueBlockStart, blueBlockEnd, 0.5));

const FONT = "'Liberation Sans', Arial, Helvetica, sans-serif";
const asterisk = 'path://M8.2,0H11.8V20H8.2Z M0,8.2H20V11.8H0Z M1.66,4.20L4.20,1.66L18.34,15.80L15.80,18.34Z M15.80,1.66L18.34,4.20L4.20,18.34L1.66,15.80Z';

const chart = echarts.init(document.getElementById('c'), null, {renderer: 'canvas'});
chart.setOption({
  animation: false,
  backgroundColor: '#ffffff',
  grid: {left: 134.5, top: 10.5, right: -12, bottom: 120, show: true, borderColor: '#000', borderWidth: 2,
         backgroundColor: 'transparent', containLabel: false, outerBoundsMode: 'none'},
  xAxis: {
    type: 'value', min: -240, max: 6240,
    name: 'mcmc iteration', nameLocation: 'middle', nameGap: 95,
    nameTextStyle: {fontFamily: FONT, fontSize: 24, color: '#000'},
    axisLine: {show: true, onZero: false, lineStyle: {color: '#000', width: 2}},
    axisTick: {show: true, customValues: iterTicks, length: 16, inside: false, lineStyle: {color: '#000', width: 2}},
    axisLabel: {show: true, customValues: iterLabels, margin: 36, fontFamily: FONT, fontSize: 24, color: '#000',
                formatter: function (v) { return String(v); }},
    splitLine: {show: false}
  },
  yAxis: {
    type: 'value', min: 0.288, max: 6.227,
    name: 'sigma draw', nameLocation: 'middle', nameGap: 90, nameRotate: 90,
    nameTextStyle: {fontFamily: FONT, fontSize: 24, color: '#000'},
    axisLine: {show: true, onZero: false, lineStyle: {color: '#000', width: 2}},
    axisTick: {show: true, customValues: sigmaTicks, length: 15, inside: false, lineStyle: {color: '#000', width: 2}},
    axisLabel: {show: true, customValues: sigmaTicks, rotate: 90, margin: 28, fontFamily: FONT, fontSize: 24, color: '#000',
                formatter: function (v) { return String(v); }},
    splitLine: {show: false}
  },
  series: [
    {type: 'scatter', data: redData, symbol: 'rect', symbolSize: 5, progressive: 0, large: false,
     itemStyle: {color: '#ff0000', opacity: 1}, silent: true, z: 2},
    {type: 'scatter', data: blueData, symbol: asterisk, symbolSize: 8, progressive: 0, large: false,
     itemStyle: {color: '#0000ff', opacity: 1}, silent: true, z: 3,
     markLine: {silent: true, symbol: ['none', 'none'], animation: false, label: {show: false},
       lineStyle: {color: '#000', width: 2, type: 'solid'}, data: [{yAxis: refLineValue}]}}
  ]
});
</script>
</body></html>
